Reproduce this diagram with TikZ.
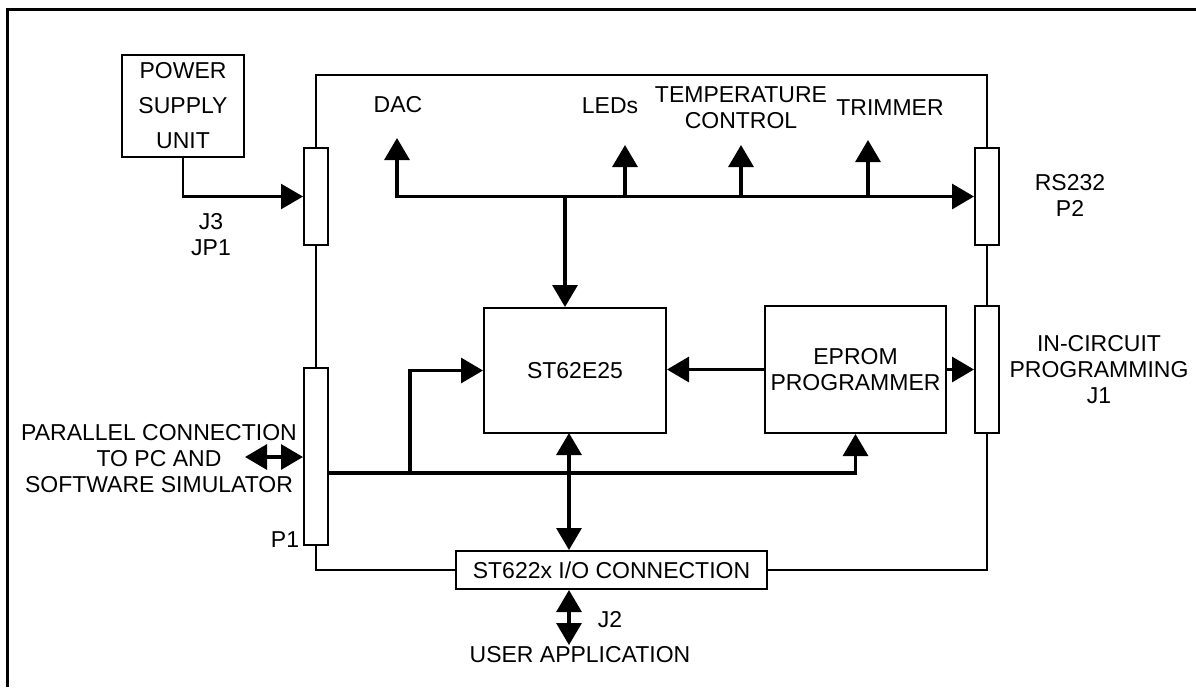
\documentclass[tikz,border=0pt]{standalone}
\usepackage{fontspec}
\setmainfont{Liberation Sans}
\usetikzlibrary{arrows.meta,positioning,calc}

\tikzset{
  blk/.style={draw, line width=1pt, inner sep=0pt, align=center},
  port/.style={draw, line width=1pt, fill=white, minimum width=12pt, inner sep=0pt},
  txt/.style={inner sep=0pt, align=center},
  board/.style={line width=1pt},
  bus/.style={line width=1.6pt},
}

\begin{document}
\begin{tikzpicture}[x=0.5pt, y=-0.5pt, font=\fontsize{11.5}{13}\selectfont,
    >={Triangle[length=11pt,width=12.5pt]}]
    \useasboundingbox (0,0) rectangle (1196,687);
    % outer frame
    \draw[line width=1.5pt] (7,687) -- (7,9) -- (1196,9);

    % blocks
    \node[blk, minimum width=61pt, minimum height=51pt,
          font=\fontsize{11.5}{17.5}\selectfont] (psu) at (183,106) {POWER\\SUPPLY\\UNIT};
    \node[blk, minimum width=91pt, minimum height=62.5pt] (st) at (575,370.5) {ST62E25};
    \node[blk, minimum width=90.5pt, minimum height=63.5pt] (eprom) at (855.5,369.5) {EPROM\\PROGRAMMER};
    \node[blk, minimum width=155.5pt, minimum height=19pt] (io) at (611.5,570) {ST622x I/O CONNECTION};

    % connectors on the board edge
    \node[port, minimum height=48.5pt] (j3) at (316,196.5) {};
    \node[port, minimum height=88.5pt] (p1) at (316,456.5) {};
    \node[port, minimum height=48.5pt] (rs) at (987,196.5) {};
    \node[port, minimum height=63.5pt] (j1) at (987,369.5) {};

    % board outline
    \coordinate (top) at (0,75);
    \draw[board] (j3.north) -- (j3 |- top) -- (rs |- top) -- (rs.north);
    \draw[board] (j3.south) -- (p1.north);
    \draw[board] (rs.south) -- (j1.north);
    \draw[board] (p1.south) |- (io.west);
    \draw[board] (io.east) -| (j1.south);

    % labels
    \node[txt] (j3lbl) at (211,234.5) {J3\\JP1};
    \node[txt] (dac) at (398,105) {DAC};
    \node[txt] (leds) at (610,106) {LEDs};
    \node[txt] (temp) at (741,108) {TEMPERATURE\\CONTROL};
    \node[txt] (trim) at (890,108) {TRIMMER};
    \node[txt] (rslbl) at (1070,195) {RS232\\P2};
    \node[txt] (j1lbl) at (1099,370) {IN-CIRCUIT\\PROGRAMMING\\J1};
    \node[txt] (pc) at (159,458.5) {PARALLEL CONNECTION\\TO PC AND\\SOFTWARE SIMULATOR};
    \node[txt] (p1lbl) at (285,539.5) {P1};
    \node[txt] (j2lbl) at (610,619.5) {J2};
    \node[txt] (user) at (580,655) {USER APPLICATION};

    % arrow ends
    \coordinate (dacup) at (397,138);
    \coordinate (ledup) at (625,145);
    \coordinate (tempup) at (741,145);
    \coordinate (trimup) at (868,140);
    \coordinate (stin) at (565,196.5);
    \coordinate (split) at (410,473);
    \coordinate (pcend) at (245,457);
    \coordinate (stio) at (569,433);
    \coordinate (userup) at (569,645);

    % upper bus
    \draw[bus,<->] (dacup) |- (rs.west);
    \foreach \c in {ledup,tempup,trimup}
        \draw[bus,->] (\c |- rs.west) -- (\c);
    \draw[bus,->] (stin) -- (stin |- st.north);

    % power
    \draw[line width=1.2pt,->] (psu.south) |- (j3.west);

    % lower bus
    \draw[bus,->] (p1.east |- split) -| (eprom.south);
    \draw[bus,->] (split) |- (st.west);
    \draw[bus,->] (eprom.west) -- (eprom.west -| st.east);
    \draw[bus,->] (eprom.east) -- (j1.west);
    \draw[bus,<->] (pcend) -- (pcend -| p1.west);
    \draw[bus,<->] (stio) -- (stio |- io.north);
    \draw[bus,<->] (stio |- io.south) -- (userup);
\end{tikzpicture}
\end{document}
